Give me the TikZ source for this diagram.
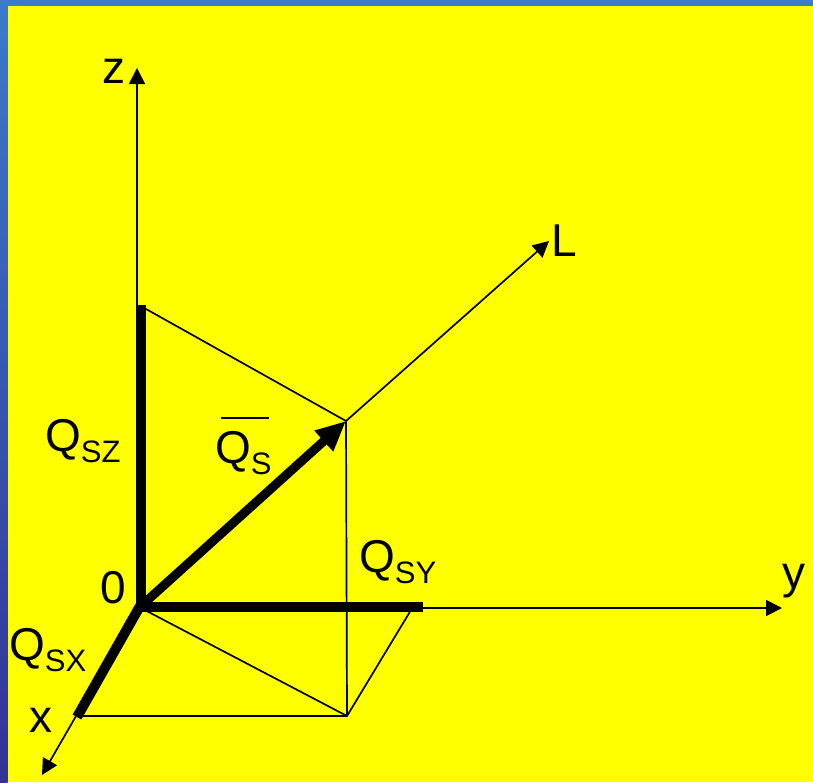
\documentclass[tikz,border=0pt]{standalone}
\usepackage{fontspec}
\setmainfont{Liberation Sans}
\usetikzlibrary{arrows.meta}
\definecolor{bgyellow}{RGB}{255,255,0}
\definecolor{blueA}{RGB}{60,122,202}
\definecolor{blueB}{RGB}{50,50,150}
\newcommand{\Qsub}[1]{Q\raisebox{-11pt}{\fontsize{31}{31}\selectfont #1}}
\begin{document}
\begin{tikzpicture}[x=1pt,y=-1pt,
  lbl/.style={inner sep=0pt,anchor=base west,font=\fontsize{46}{46}\selectfont},
  thin/.style={line width=1.7pt},
  axis/.style={thin,-{Triangle[length=16pt,width=16pt]}},
  thick/.style={line width=10pt,line cap=butt}]
\useasboundingbox (0,0) rectangle (813,782);
\fill[bgyellow] (0,0) rectangle (813,782);
\shade[top color=blueA,bottom color=blueB] (0,0) rectangle (7.5,782);
\fill[blueA] (0,0) rectangle (813,6);
% coordinates
\coordinate (O) at (139,607);
\coordinate (Ztip) at (137,68);
\coordinate (Zbase) at (137,607);
\coordinate (Ytip) at (782,608);
\coordinate (Ybase) at (137,608);
\coordinate (Xtip) at (42,775);
\coordinate (Xend) at (77,717);
\coordinate (Ztop) at (141,305);
\coordinate (Zbot) at (141,607);
\coordinate (Ztopr) at (146,309);
\coordinate (Yend) at (423,606.5);
\coordinate (Ystart) at (136,606.5);
\coordinate (Yp) at (411,610);
\coordinate (B) at (347,716);
\coordinate (Xb) at (78,716);
\coordinate (P) at (346,421);
\coordinate (Ltip) at (549,241);
\coordinate (Xstart) at (140,606);
\coordinate (Vstart) at (141,606);
% axes
\draw[axis] (Zbase) -- (Ztip);
\draw[axis] (Ybase) -- (Ytip);
\draw[axis] (O) -- (Xtip);
% construction lines
\draw[thin] (Xb) -- (B) -- (Yp);
\draw[thin] (O) -- (B);
\draw[thin] (B) -- (P);
\draw[thin] (Ztopr) -- (P);
\draw[axis] (P) -- (Ltip);
% thick components
\draw[thick] (Ztop) -- (Zbot);
\draw[thick] (Ystart) -- (Yend);
\draw[thick] (Xstart) -- (Xend);
\draw[line width=9pt,-{Triangle[length=30pt,width=26pt]}] (Vstart) -- (P);
% labels
\node[lbl] (lz) at (102,83) {z};
\node[lbl] (ly) at (782,588) {y};
\node[lbl] (lx) at (29,732) {x};
\node[lbl] (lL) at (551,256) {L};
\node[lbl] (l0) at (100,603) {0};
\node[lbl] (qsz) at (45,451) {\Qsub{SZ}};
\node[lbl] (qs) at (215,463) {\Qsub{S}};
\node[lbl] (qsy) at (359,572) {\Qsub{SY}};
\node[lbl] (qsx) at (9,660) {\Qsub{SX}};
\draw[line width=2pt] ([shift={(6,-13)}]qs.north west) -- ([shift={(-3,-13)}]qs.north east);
\end{tikzpicture}
\end{document}
